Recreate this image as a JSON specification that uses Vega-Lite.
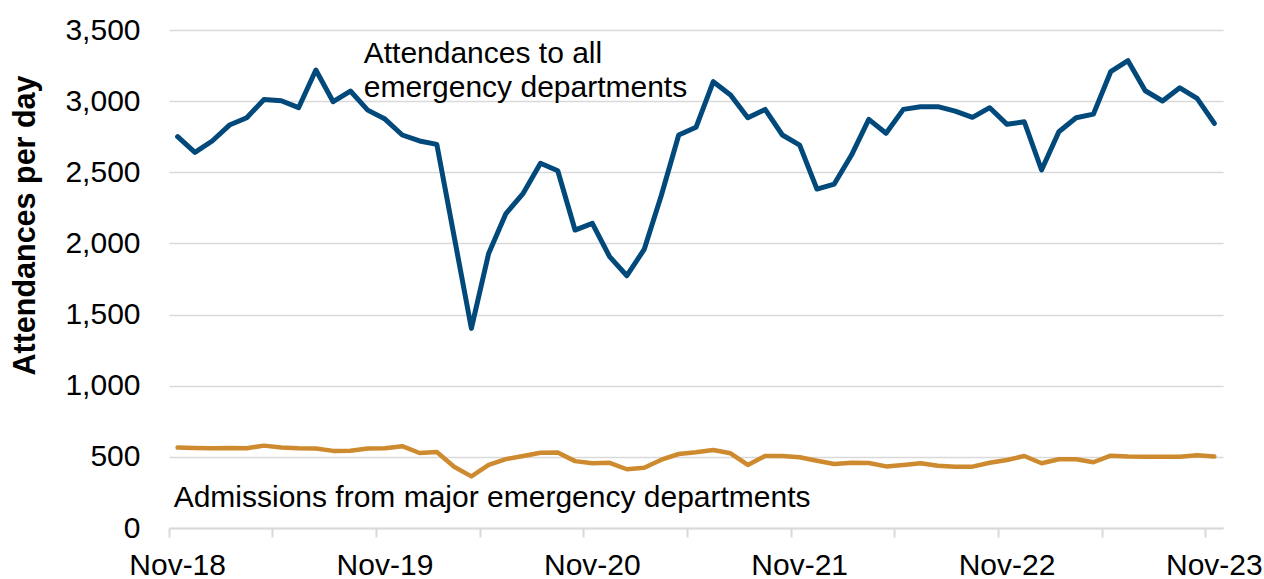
{
  "$schema": "https://vega.github.io/schema/vega-lite/v6.json",
  "width": 1054,
  "height": 498,
  "autosize": {"type": "none"},
  "padding": {"left": 169, "top": 30, "right": 41, "bottom": 51},
  "background": "white",
  "config": {"view": {"stroke": null}, "font": "Liberation Sans"},
  "datasets": {
    "ed": [
      {"month": "Nov-18", "attendances": 2750, "admissions": 565},
      {"month": "Dec-18", "attendances": 2640, "admissions": 563},
      {"month": "Jan-19", "attendances": 2720, "admissions": 561},
      {"month": "Feb-19", "attendances": 2832, "admissions": 563},
      {"month": "Mar-19", "attendances": 2883, "admissions": 561},
      {"month": "Apr-19", "attendances": 3012, "admissions": 579},
      {"month": "May-19", "attendances": 3003, "admissions": 565},
      {"month": "Jun-19", "attendances": 2954, "admissions": 560},
      {"month": "Jul-19", "attendances": 3219, "admissions": 558},
      {"month": "Aug-19", "attendances": 2996, "admissions": 542},
      {"month": "Sep-19", "attendances": 3071, "admissions": 543},
      {"month": "Oct-19", "attendances": 2937, "admissions": 558},
      {"month": "Nov-19", "attendances": 2874, "admissions": 560},
      {"month": "Dec-19", "attendances": 2762, "admissions": 575},
      {"month": "Jan-20", "attendances": 2720, "admissions": 527},
      {"month": "Feb-20", "attendances": 2696, "admissions": 534},
      {"month": "Mar-20", "attendances": 2050, "admissions": 431},
      {"month": "Apr-20", "attendances": 1403, "admissions": 363},
      {"month": "May-20", "attendances": 1930, "admissions": 443},
      {"month": "Jun-20", "attendances": 2210, "admissions": 484},
      {"month": "Jul-20", "attendances": 2352, "admissions": 506},
      {"month": "Aug-20", "attendances": 2563, "admissions": 529},
      {"month": "Sep-20", "attendances": 2511, "admissions": 531},
      {"month": "Oct-20", "attendances": 2094, "admissions": 470},
      {"month": "Nov-20", "attendances": 2141, "admissions": 455},
      {"month": "Dec-20", "attendances": 1907, "admissions": 458},
      {"month": "Jan-21", "attendances": 1773, "admissions": 413},
      {"month": "Feb-21", "attendances": 1958, "admissions": 424},
      {"month": "Mar-21", "attendances": 2340, "admissions": 480},
      {"month": "Apr-21", "attendances": 2762, "admissions": 520},
      {"month": "May-21", "attendances": 2816, "admissions": 532},
      {"month": "Jun-21", "attendances": 3137, "admissions": 548},
      {"month": "Jul-21", "attendances": 3043, "admissions": 525},
      {"month": "Aug-21", "attendances": 2883, "admissions": 443},
      {"month": "Sep-21", "attendances": 2942, "admissions": 506},
      {"month": "Oct-21", "attendances": 2762, "admissions": 506},
      {"month": "Nov-21", "attendances": 2691, "admissions": 497},
      {"month": "Dec-21", "attendances": 2382, "admissions": 473},
      {"month": "Jan-22", "attendances": 2417, "admissions": 450},
      {"month": "Feb-22", "attendances": 2621, "admissions": 459},
      {"month": "Mar-22", "attendances": 2872, "admissions": 457},
      {"month": "Apr-22", "attendances": 2774, "admissions": 433},
      {"month": "May-22", "attendances": 2942, "admissions": 443},
      {"month": "Jun-22", "attendances": 2961, "admissions": 455},
      {"month": "Jul-22", "attendances": 2961, "admissions": 438},
      {"month": "Aug-22", "attendances": 2930, "admissions": 431},
      {"month": "Sep-22", "attendances": 2886, "admissions": 431},
      {"month": "Oct-22", "attendances": 2954, "admissions": 459},
      {"month": "Nov-22", "attendances": 2837, "admissions": 478},
      {"month": "Dec-22", "attendances": 2855, "admissions": 506},
      {"month": "Jan-23", "attendances": 2516, "admissions": 455},
      {"month": "Feb-23", "attendances": 2785, "admissions": 483},
      {"month": "Mar-23", "attendances": 2883, "admissions": 483},
      {"month": "Apr-23", "attendances": 2909, "admissions": 462},
      {"month": "May-23", "attendances": 3207, "admissions": 508},
      {"month": "Jun-23", "attendances": 3284, "admissions": 502},
      {"month": "Jul-23", "attendances": 3073, "admissions": 501},
      {"month": "Aug-23", "attendances": 3001, "admissions": 501},
      {"month": "Sep-23", "attendances": 3094, "admissions": 501},
      {"month": "Oct-23", "attendances": 3020, "admissions": 512},
      {"month": "Nov-23", "attendances": 2844, "admissions": 502}
    ],
    "notes": [
      {"month": "Oct-19", "value": 3269, "label": "Attendances to all"},
      {"month": "Oct-19", "value": 3030, "label": "emergency departments"},
      {"month": "Nov-18", "value": 145, "label": "Admissions from major emergency departments"}
    ]
  },
  "layer": [
    {
      "data": {"name": "ed"},
      "mark": {"type": "line", "color": "#CE8A2E", "strokeWidth": 4.5, "strokeJoin": "round", "strokeCap": "round"},
      "encoding": {
        "x": {
          "field": "month", "type": "ordinal", "sort": null, "bandPosition": 0.5,
          "scale": {"type": "band", "paddingInner": 0, "paddingOuter": 0,
            "domain": ["Nov-18","Dec-18","Jan-19","Feb-19","Mar-19","Apr-19","May-19","Jun-19","Jul-19","Aug-19","Sep-19","Oct-19","Nov-19","Dec-19","Jan-20","Feb-20","Mar-20","Apr-20","May-20","Jun-20","Jul-20","Aug-20","Sep-20","Oct-20","Nov-20","Dec-20","Jan-21","Feb-21","Mar-21","Apr-21","May-21","Jun-21","Jul-21","Aug-21","Sep-21","Oct-21","Nov-21","Dec-21","Jan-22","Feb-22","Mar-22","Apr-22","May-22","Jun-22","Jul-22","Aug-22","Sep-22","Oct-22","Nov-22","Dec-22","Jan-23","Feb-23","Mar-23","Apr-23","May-23","Jun-23","Jul-23","Aug-23","Sep-23","Oct-23","Nov-23"]},
          "axis": {
            "orient": "bottom", "title": null, "values": ["Nov-18","May-19","Nov-19","May-20","Nov-20","May-21","Nov-21","May-22","Nov-22","May-23","Nov-23"],
            "bandPosition": 0, "labels": false, "ticks": true, "tickSize": 9, "tickColor": "#D9D9D9", "tickWidth": 2,
            "domain": true, "domainColor": "#D9D9D9", "domainWidth": 2, "grid": false
          }
        },
        "y": {
          "field": "admissions", "type": "quantitative",
          "scale": {"domain": [0, 3500], "nice": false, "zero": true},
          "axis": null
        }
      }
    },
    {
      "data": {"name": "ed"},
      "mark": {"type": "line", "color": "#00497A", "strokeWidth": 5, "strokeJoin": "round", "strokeCap": "round"},
      "encoding": {
        "x": {
          "field": "month", "type": "ordinal", "sort": null, "bandPosition": 0.5,
          "axis": {
            "orient": "bottom", "title": null, "values": ["Nov-18","Nov-19","Nov-20","Nov-21","Nov-22","Nov-23"],
            "labels": true, "ticks": false, "tickSize": 0, "domain": false, "grid": false,
            "labelAngle": 0, "labelFontSize": 30, "labelColor": "#000000", "labelFont": "Liberation Sans",
            "labelPadding": 22, "labelOverlap": false, "labelFlush": false, "labelBound": false
          }
        },
        "y": {
          "field": "attendances", "type": "quantitative",
          "axis": {
            "values": [0, 500, 1000, 1500, 2000, 2500, 3000, 3500], "format": ",.0f",
            "grid": true, "gridColor": "#D9D9D9", "gridWidth": 1.5,
            "domain": false, "ticks": false, "tickSize": 0,
            "labelPadding": 29, "labelFontSize": 30, "labelColor": "#000000", "labelFont": "Liberation Sans",
            "title": "Attendances per day", "titleFontSize": 30.5, "titleFontWeight": "bold", "titleColor": "#000000",
            "titleFont": "Liberation Sans", "titleAngle": -90, "titleBaseline": "bottom", "titleAlign": "center",
            "titleX": -129, "titleY": 195
          }
        }
      }
    },
    {
      "data": {"name": "notes"},
      "mark": {"type": "text", "align": "left", "baseline": "alphabetic", "fontSize": 30, "font": "Liberation Sans", "color": "#000000", "dx": -4},
      "encoding": {
        "x": {"field": "month", "type": "ordinal", "bandPosition": 0.5, "axis": null},
        "y": {"field": "value", "type": "quantitative", "axis": null},
        "text": {"field": "label"}
      }
    }
  ],
  "resolve": {"axis": {"x": "independent", "y": "independent"}}
}
